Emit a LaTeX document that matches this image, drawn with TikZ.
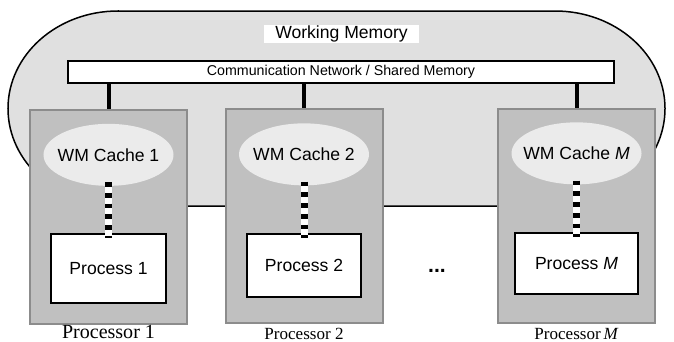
\documentclass[tikz,border=0pt]{standalone}
\usepackage{fontspec}
\setmainfont{Liberation Serif}
\setsansfont{Liberation Sans}
\usepackage{tikz}
\usetikzlibrary{positioning,shapes.geometric}
\definecolor{wmgray}{HTML}{E0E0E0}
\definecolor{procgray}{HTML}{C0C0C0}
\definecolor{procedge}{HTML}{8C8C8C}
\definecolor{cachegray}{HTML}{EBEBEB}

\begin{document}
\begin{tikzpicture}[
    x=0.2mm, y=-0.2mm,
    proc/.style={draw=procedge, fill=procgray, line width=0.4mm,
                 minimum width=3.14cm, minimum height=4.28cm, inner sep=0pt},
    cache/.style={ellipse, fill=cachegray, minimum width=2.6cm,
                  minimum height=1.24cm, inner xsep=-0.16cm, inner ysep=0pt,
                  font=\sffamily\fontsize{10}{12}\selectfont},
    task/.style={draw, fill=white, line width=0.4mm, inner sep=0pt,
                 font=\sffamily\fontsize{10}{12}\selectfont},
    plabel/.style={inner sep=0pt, font=\fontsize{9.7}{11}\selectfont},
    bus/.style={line width=0.8mm},
    cachelink/.style={line width=1.4mm, white,
                      postaction={draw, black, line width=1.4mm,
                      dash pattern=on 0.95mm off 1.2mm}},
]
\useasboundingbox (0,0) rectangle (674,341);

% -- working memory --
\draw[fill=wmgray, line width=0.3mm] (118,11) -- (555,11)
    arc[start angle=90, end angle=-90, x radius=2.2cm, y radius=1.95cm]
    -- (118,206)
    arc[start angle=270, end angle=90, x radius=2.2cm, y radius=1.95cm]
    -- cycle;
\node[fill=white, minimum width=3.1cm, minimum height=0.36cm, inner sep=0pt,
      font=\sffamily\fontsize{10}{12}\selectfont] (wm) at (341.5,34)
    {Working Memory};
\node[draw, fill=white, line width=0.4mm, minimum width=10.92cm,
      minimum height=0.44cm, inner sep=0pt,
      font=\sffamily\fontsize{8.1}{10}\selectfont] (net) at (341,72)
    {Communication Network / Shared Memory};

% -- processors --
\node[proc] (p1) at (108.5,216.5) {};
\node[proc] (p2) at (304,216) {};
\node[proc] (pm) at (576.5,216) {};

\node[cache, below=0.3cm of p1.north] (c1) {WM Cache 1};
\node[cache, below=0.3cm of p2.north] (c2) {WM Cache 2};
\node[cache, below=0.28cm of pm.north] (cm) {WM Cache \textit{M}};

\node[task, minimum width=2.3cm, minimum height=1.38cm,
      below=0.94cm of c1] (t1) {Process 1};
\node[task, minimum width=2.28cm, minimum height=1.26cm,
      below=0.94cm of c2] (t2) {Process 2};
\node[task, minimum width=2.46cm, minimum height=1.22cm,
      below=0.94cm of cm] (tm) {Process \textit{M}};

\node[font=\sffamily\bfseries\fontsize{12}{14}\selectfont] (dots)
    at (437,271) {...};

\node[plabel, font=\fontsize{11.4}{13}\selectfont,
      below=0.1mm of p1] (l1) {Processor 1};
\node[plabel, below=0.7mm of p2] (l2) {Processor 2};
\node[plabel, below=0.7mm of pm] (lm) {Processor\,\textit{M}};

% -- links --
\draw[bus] (net.south -| p1.north) -- (p1.north);
\draw[bus] (net.south -| p2.north) -- (p2.north);
\draw[bus] (net.south -| pm.north) -- (pm.north);

\draw[cachelink] ([yshift=0.08cm]c1.south) -- ([yshift=-0.1cm]t1.north);
\draw[cachelink] ([yshift=0.08cm]c2.south) -- ([yshift=-0.1cm]t2.north);
\draw[cachelink] ([yshift=0.08cm]cm.south) -- ([yshift=-0.1cm]tm.north);

\end{tikzpicture}
\end{document}
